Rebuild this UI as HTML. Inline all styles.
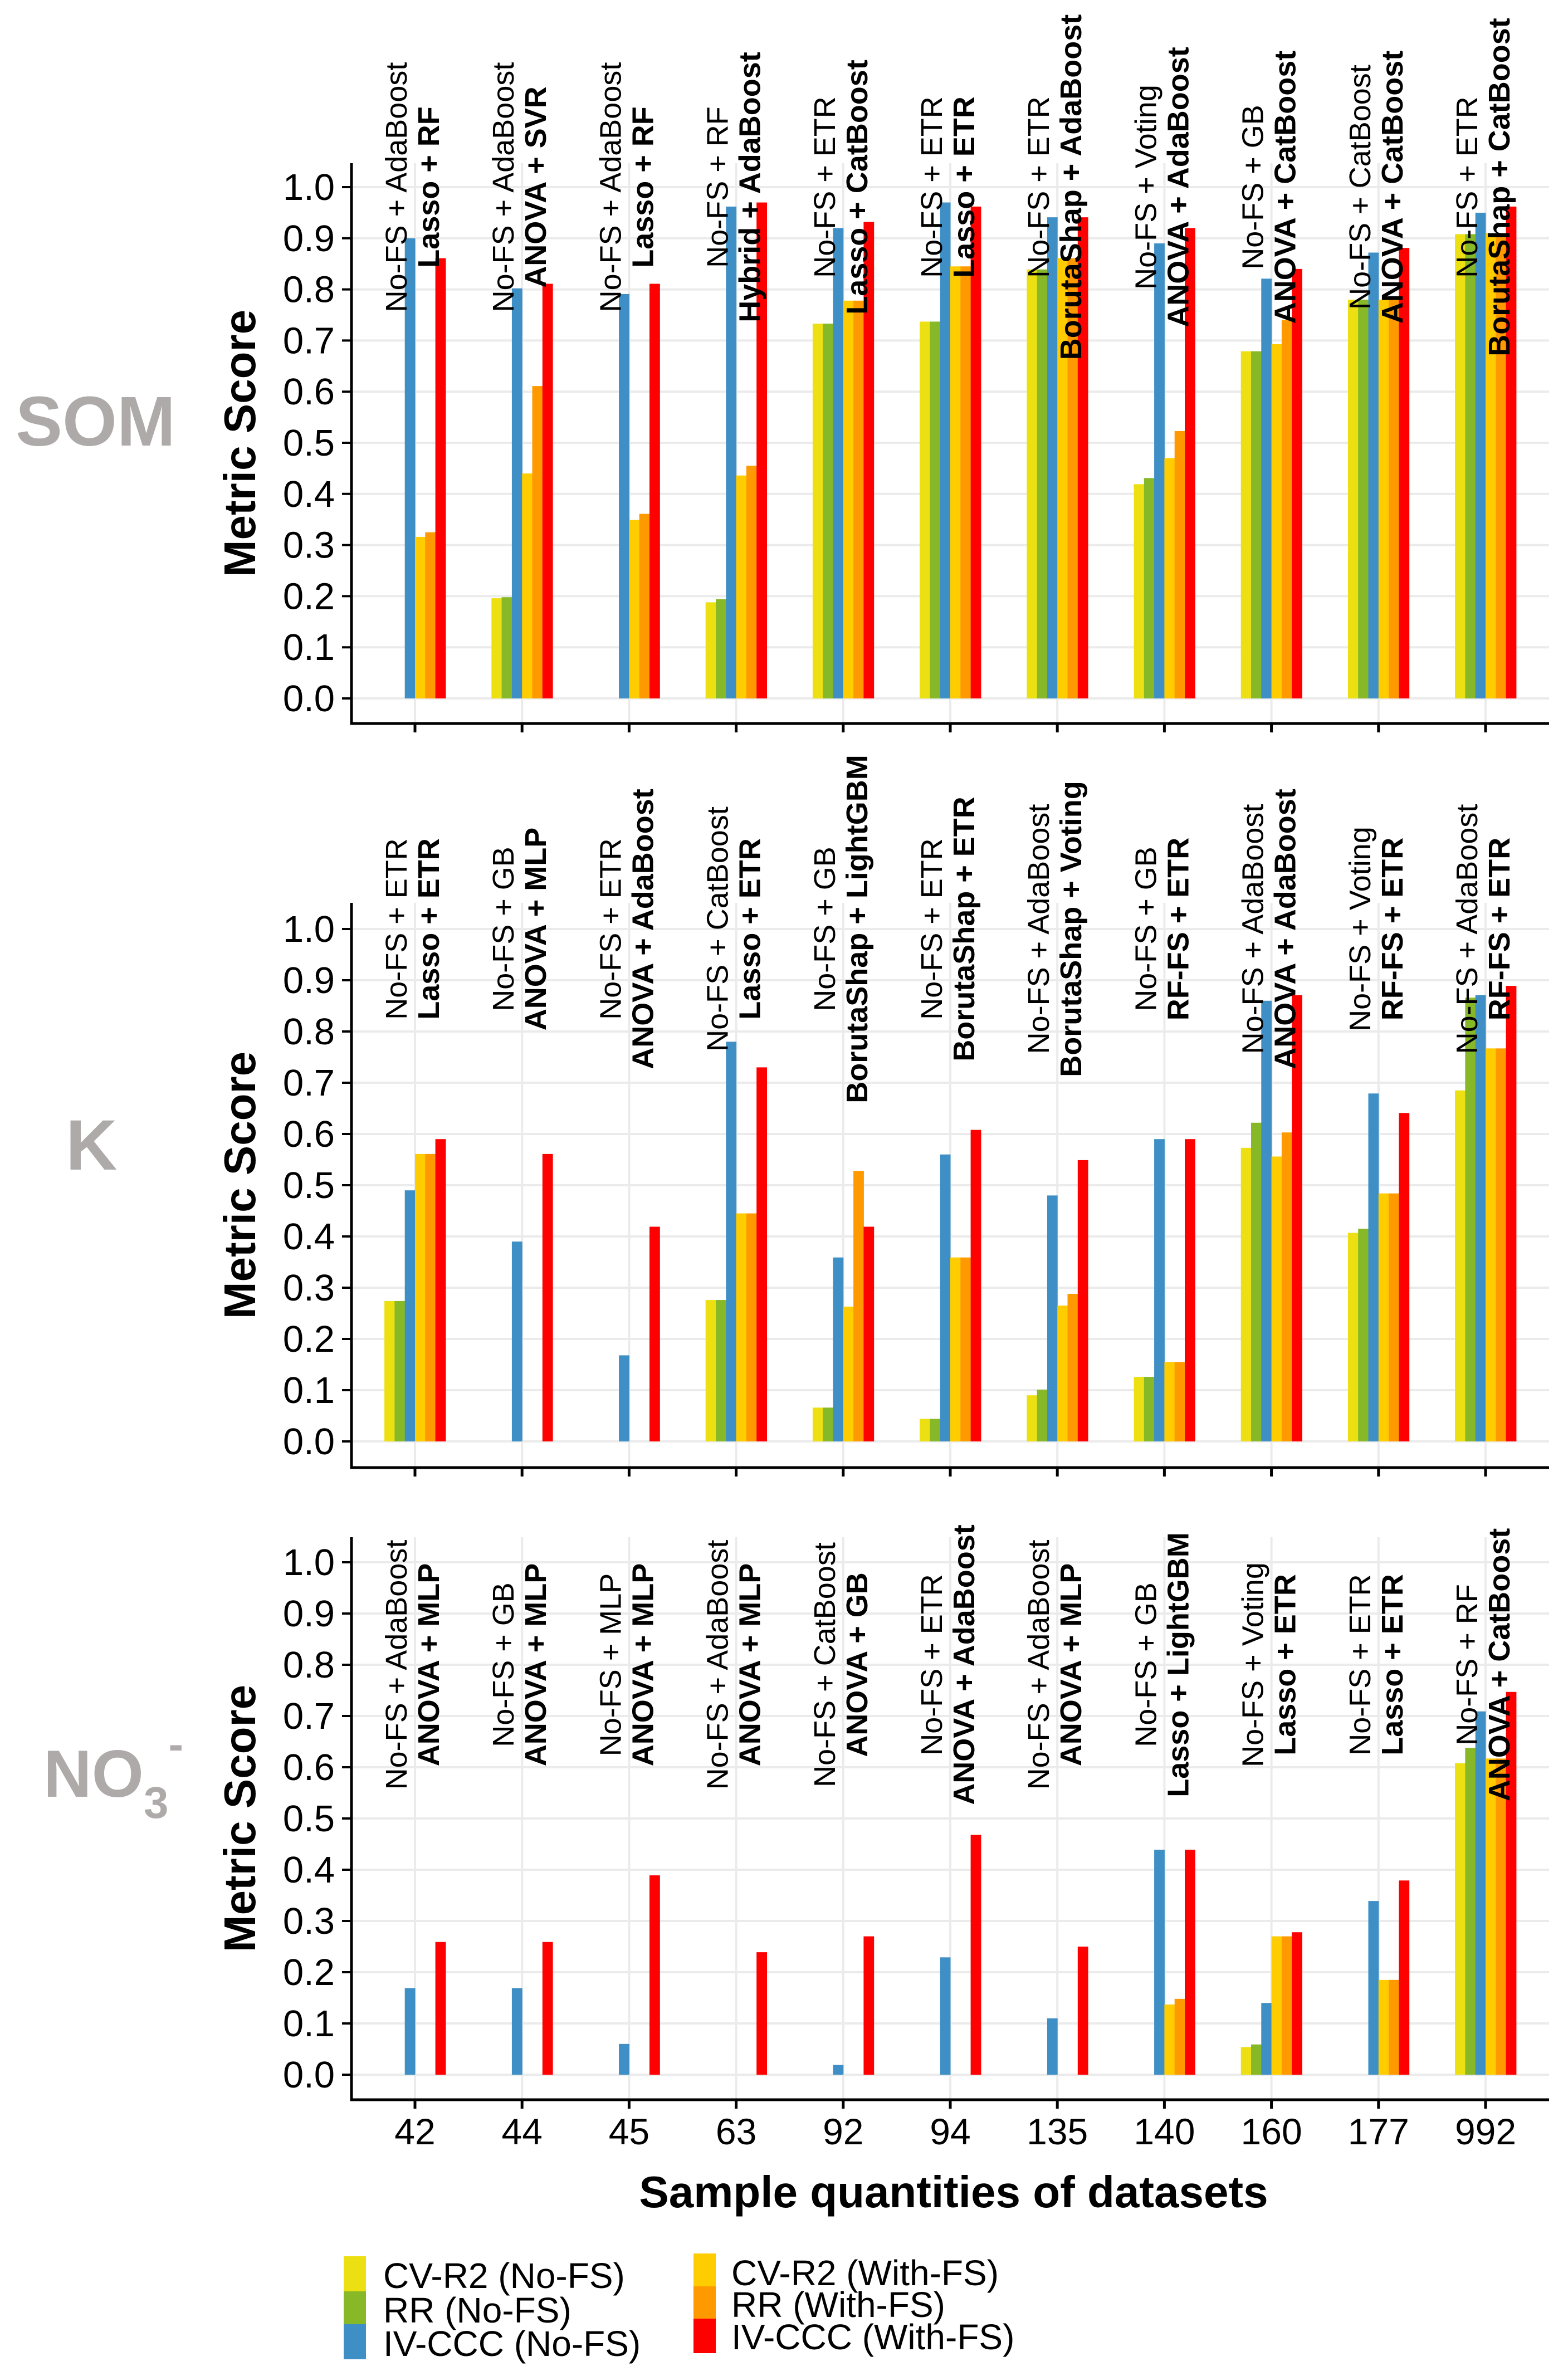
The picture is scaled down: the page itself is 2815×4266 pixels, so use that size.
<!DOCTYPE html>
<html><head><meta charset="utf-8"><style>
html,body{margin:0;padding:0;background:#fff;}
svg{display:block;}
text{font-family:"Liberation Sans",Arial,sans-serif;}
</style></head><body>
<svg id="chart" width="2815" height="4266" viewBox="0 0 2815 4266" xmlns="http://www.w3.org/2000/svg">
<rect x="0" y="0" width="2815" height="4266" fill="#fff"/>
<g id="panels"></g>
<text x="1712" y="3963" font-size="80" font-weight="bold" text-anchor="middle">Sample quantities of datasets</text>
<text x="28" y="800" font-size="126" font-weight="bold" fill="#aeaaaa">SOM</text>
<text x="118" y="2100" font-size="128" font-weight="bold" fill="#aeaaaa">K</text>
<text x="78" y="3226" font-size="120" font-weight="bold" fill="#aeaaaa">NO<tspan font-size="80" dy="38">3</tspan><tspan font-size="80" dy="-105">-</tspan></text>
<g id="legend"></g>
</svg>
<script>
const categories = ["42","44","45","63","92","94","135","140","160","177","992"];
const seriesNames = ["CV-R2 (No-FS)","RR (No-FS)","IV-CCC (No-FS)","CV-R2 (With-FS)","RR (With-FS)","IV-CCC (With-FS)"];
const seriesColors = ["#ece012","#86b828","#3e8fc6","#ffcc00","#ff9900","#ff0000"];
const yTicks = ["0.0","0.1","0.2","0.3","0.4","0.5","0.6","0.7","0.8","0.9","1.0"];

// SOM values: [cvNo, rrNo, ivNo, cvWith, rrWith, ivWith] per category
const somCvNo   = [0,0.196,0,0.188,0.733,0.737,0.839,0.419,0.679,0.78,0.908];
const somRrNo   = [0,0.198,0,0.194,0.733,0.737,0.839,0.431,0.679,0.78,0.908];
const somIvNo   = [0.90,0.802,0.791,0.962,0.92,0.97,0.941,0.89,0.821,0.872,0.95];
const somCvWith = [0.316,0.44,0.349,0.436,0.778,0.845,0.861,0.47,0.693,0.78,0.91];
const somRrWith = [0.325,0.611,0.361,0.455,0.778,0.845,0.861,0.523,0.74,0.78,0.91];
const somIvWith = [0.861,0.811,0.811,0.97,0.932,0.962,0.941,0.92,0.84,0.881,0.962];
const somNoFsLabels = ["No-FS + AdaBoost","No-FS + AdaBoost","No-FS + AdaBoost","No-FS + RF","No-FS + ETR","No-FS + ETR","No-FS + ETR","No-FS + Voting","No-FS + GB","No-FS + CatBoost","No-FS + ETR"];
const somFsLabels = ["Lasso + RF","ANOVA + SVR","Lasso + RF","Hybrid + AdaBoost","Lasso + CatBoost","Lasso + ETR","BorutaShap + AdaBoost","ANOVA + AdaBoost","ANOVA + CatBoost","ANOVA + CatBoost","BorutaShap + CatBoost"];

const kCvNo   = [0.274,0,0,0.276,0.066,0.044,0.09,0.126,0.573,0.407,0.685];
const kRrNo   = [0.274,0,0,0.276,0.066,0.044,0.101,0.126,0.622,0.415,0.866];
const kIvNo   = [0.49,0.39,0.168,0.78,0.359,0.56,0.48,0.59,0.86,0.679,0.871];
const kCvWith = [0.561,0,0,0.445,0.263,0.359,0.265,0.155,0.556,0.484,0.767];
const kRrWith = [0.561,0,0,0.445,0.528,0.359,0.288,0.155,0.603,0.484,0.767];
const kIvWith = [0.59,0.561,0.419,0.73,0.419,0.608,0.549,0.59,0.871,0.641,0.889];
const kNoFsLabels = ["No-FS + ETR","No-FS + GB","No-FS + ETR","No-FS + CatBoost","No-FS + GB","No-FS + ETR","No-FS + AdaBoost","No-FS + GB","No-FS + AdaBoost","No-FS + Voting","No-FS + AdaBoost"];
const kFsLabels = ["Lasso + ETR","ANOVA + MLP","ANOVA + AdaBoost","Lasso + ETR","BorutaShap + LightGBM","BorutaShap + ETR","BorutaShap + Voting","RF-FS + ETR","ANOVA + AdaBoost","RF-FS + ETR","RF-FS + ETR"];

const nCvNo   = [0,0,0,0,0,0,0,0,0.054,0,0.608];
const nRrNo   = [0,0,0,0,0,0,0,0,0.059,0,0.638];
const nIvNo   = [0.169,0.169,0.06,0,0.019,0.229,0.11,0.439,0.14,0.339,0.709];
const nCvWith = [0,0,0,0,0,0,0,0.137,0.27,0.185,0.617];
const nRrWith = [0,0,0,0,0,0,0,0.148,0.27,0.185,0.617];
const nIvWith = [0.259,0.259,0.389,0.239,0.27,0.468,0.25,0.439,0.278,0.379,0.747];
const nNoFsLabels = ["No-FS + AdaBoost","No-FS + GB","No-FS + MLP","No-FS + AdaBoost","No-FS + CatBoost","No-FS + ETR","No-FS + AdaBoost","No-FS + GB","No-FS + Voting","No-FS + ETR","No-FS + RF"];
const nFsLabels = ["ANOVA + MLP","ANOVA + MLP","ANOVA + MLP","ANOVA + MLP","ANOVA + GB","ANOVA + AdaBoost","ANOVA + MLP","Lasso + LightGBM","Lasso + ETR","Lasso + ETR","ANOVA + CatBoost"];

const NS = "http://www.w3.org/2000/svg";
const panelsG = document.getElementById("panels");
function mk(tag, attrs, parent){const e=document.createElementNS(NS,tag);for(const k in attrs)e.setAttribute(k,attrs[k]);parent.appendChild(e);return e;}

const panelDefs = [
  {id:"som", zero:1254, unit:918, top:293, axis:1299, labelAt:1.0, series:[somCvNo,somRrNo,somIvNo,somCvWith,somRrWith,somIvWith], noFs:somNoFsLabels, fs:somFsLabels, xlabels:false},
  {id:"k", zero:2588, unit:920, top:1621, axis:2635, labelAt:1.0, series:[kCvNo,kRrNo,kIvNo,kCvWith,kRrWith,kIvWith], noFs:kNoFsLabels, fs:kFsLabels, xlabels:false},
  {id:"no3", zero:3725, unit:920, top:2760, axis:3770, labelAt:0.8, series:[nCvNo,nRrNo,nIvNo,nCvWith,nRrWith,nIvWith], noFs:nNoFsLabels, fs:nFsLabels, xlabels:true}
];
const xLeft=631, xRight=2781, x0=745, step=192.2, barW=18.3;
function xScale(i){return x0+i*step;}

panelDefs.forEach(p=>{
  const g=mk("g",{},panelsG);
  
  
  const yS=v=>p.zero-v*p.unit;
  // grid
  yTicks.forEach(t=>{
    const y=yS(parseFloat(t));
    const gl=mk("line",{x1:xLeft,x2:xRight,y1:y,y2:y,stroke:"#ebebeb","stroke-width":4},g);
    
    
    const tk=mk("line",{x1:614,x2:xLeft,y1:y,y2:y,stroke:"#000","stroke-width":4},g);
    
    
    const tl=mk("text",{x:601,y:y+23,"font-size":67,"text-anchor":"end",fill:"#000"},g);
    tl.textContent=t;
    
    
  });
  categories.forEach((c,i)=>{
    const x=xScale(i);
    const gl=mk("line",{x1:x,x2:x,y1:p.top,y2:p.axis,stroke:"#ebebeb","stroke-width":4},g);
    
    
  });
  // bars
  p.series.forEach((arr,s)=>{
    arr.forEach((v,i)=>{
      if(!(v>0))return;
      const bx=xScale(i)+(s-3)*barW;
      const r=mk("rect",{x:bx,y:yS(v),width:barW+0.5,height:v*p.unit,fill:seriesColors[s]},g);
      
      
    });
  });
  // annotations
  categories.forEach((c,i)=>{
    const x=xScale(i), yc=yS(p.labelAt);
    const t1=mk("text",{x:0,y:0,"font-size":54,"text-anchor":"middle","dominant-baseline":"central",transform:`translate(${x-33},${yc}) rotate(-90)`},g);
    t1.textContent=p.noFs[i];
    
    
    const t2=mk("text",{x:0,y:0,"font-size":54,"font-weight":"bold","text-anchor":"middle","dominant-baseline":"central",transform:`translate(${x+25},${yc}) rotate(-90)`},g);
    t2.textContent=p.fs[i];
    
    
  });
  // axes
  const ax1=mk("line",{x1:xLeft,x2:xLeft,y1:p.top,y2:p.axis+2,stroke:"#000","stroke-width":5},g);
  
  
  const ax2=mk("line",{x1:xLeft-2,x2:xRight,y1:p.axis,y2:p.axis,stroke:"#000","stroke-width":5},g);
  
  
  categories.forEach((c,i)=>{
    const x=xScale(i);
    const tk=mk("line",{x1:x,x2:x,y1:p.axis,y2:p.axis+16,stroke:"#000","stroke-width":5},g);
    
    
    if(p.xlabels){
      const tl=mk("text",{x:x,y:3850,"font-size":66,"text-anchor":"middle"},g);
      tl.textContent=c;
      
      
    }
  });
  const yt=mk("text",{x:0,y:0,"font-size":80,"font-weight":"bold","text-anchor":"middle",transform:`translate(458,${(p.top+p.axis)/2}) rotate(-90)`},g);
  yt.textContent="Metric Score";
  
  
});

// legend
const lg=document.getElementById("legend");
const legendPos=[
  {sx:617,sy:4051,h:63,tx:688,ty:4108},
  {sx:617,sy:4114,h:59,tx:688,ty:4170},
  {sx:617,sy:4173,h:63,tx:688,ty:4230},
  {sx:1245,sy:4046,h:59,tx:1313,ty:4103},
  {sx:1245,sy:4105,h:58,tx:1313,ty:4160},
  {sx:1245,sy:4163,h:62,tx:1313,ty:4218}
];
seriesNames.forEach((n,s)=>{
  const L=legendPos[s];
  const r=mk("rect",{x:L.sx,y:L.sy,width:40,height:L.h,fill:seriesColors[s]},lg);
  
  
  const t=mk("text",{x:L.tx,y:L.ty,"font-size":64},lg);
  t.textContent=n;
  
  
});
</script>
</body></html>
